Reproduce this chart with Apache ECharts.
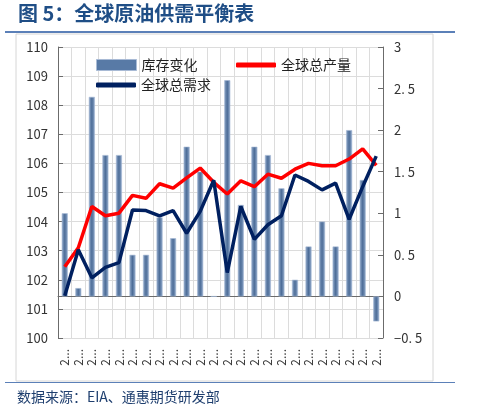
<!DOCTYPE html>
<html>
<head>
<meta charset="utf-8">
<script src="https://cdn.jsdelivr.net/npm/echarts@6/dist/echarts.min.js"></script>
<style>html,body{margin:0;padding:0;background:#fff}#c{width:490px;height:413px}</style>
</head>
<body>
<div id="c"></div>
<script>
const categories = ['2023-01','2023-02','2023-03','2023-04','2023-05','2023-06','2023-07','2023-08','2023-09','2023-10','2023-11','2023-12','2024-01','2024-02','2024-03','2024-04','2024-05','2024-06','2024-07','2024-08','2024-09','2024-10','2024-11','2024-12'];
const inventoryChange = [1.0,0.1,2.4,1.7,1.7,0.5,0.5,0.95,0.7,1.8,1.5,0,2.6,1.1,1.8,1.7,1.3,0.2,0.6,0.9,0.6,2.0,1.4,-0.3];
const totalSupply = [102.45,103.1,104.52,104.2,104.29,104.9,104.8,105.3,105.15,105.5,105.84,105.35,104.95,105.4,105.2,105.63,105.49,105.8,106.0,105.92,105.92,106.15,106.5,105.93];
const totalDemand = [101.45,103.03,102.07,102.43,102.59,104.4,104.38,104.2,104.38,103.6,104.35,105.42,102.25,104.52,103.39,103.89,104.2,105.6,105.38,105.09,105.32,104.08,105.2,106.25];
const titleText = '图 5：全球原油供需平衡表';
const sourceText = '数据来源：EIA、通惠期货研发部';

const chart = echarts.init(document.getElementById('c'));
const barColor = new echarts.graphic.LinearGradient(0,0,1,0,[
  {offset:0,color:'#8ea7c8'},{offset:0.5,color:'#4d6d98'},{offset:1,color:'#8ea7c8'}
]);
const axisLineColor = '#6b6b6b';
const font = '"Noto Sans CJK SC", "Liberation Sans", sans-serif';
const legendText = {fontSize:14,color:'#222',fontFamily:font};
chart.setOption({
  animation:false,
  textStyle:{fontFamily:font},
  graphic:[
    {type:'text',left:18,top:3,style:{text:titleText,fill:'#1f4e86',font:'bold 20px "Noto Sans CJK SC", sans-serif'}},
    {type:'line',shape:{x1:5,y1:32,x2:455,y2:32},style:{stroke:'#5b80b8',lineWidth:2}},
    {type:'rect',shape:{x:16,y:34,width:417,height:347},style:{fill:'none',stroke:'#d6d6d6',lineWidth:1}},
    {type:'line',shape:{x1:5,y1:382.5,x2:455,y2:382.5},style:{stroke:'#5b80b8',lineWidth:1}},
    {type:'text',left:17,top:390,style:{text:sourceText,fill:'#1f3f6f',font:'14px "Noto Sans CJK SC", sans-serif'}}
  ],
  legend:[
    {data:[{name:'库存变化',itemStyle:{color:'#587aa6',borderColor:'#a9bcd6',borderWidth:1}}],left:91,top:53,itemWidth:40,itemHeight:11,icon:'rect',textStyle:legendText},
    {data:['全球总需求'],left:91,top:73,itemWidth:40,itemHeight:5,icon:'roundRect',textStyle:legendText},
    {data:['全球总产量'],left:231,top:53,itemWidth:40,itemHeight:5,icon:'roundRect',textStyle:legendText}
  ],
  grid:{left:58,right:107,top:47,bottom:75,containLabel:false},
  xAxis:{
    type:'category',data:categories,boundaryGap:true,
    axisLine:{lineStyle:{color:axisLineColor}},
    axisTick:{inside:true,length:5,interval:2,lineStyle:{color:axisLineColor}},
    axisLabel:{interval:0,rotate:90,margin:11,width:24,overflow:'truncate',ellipsis:'...',fontSize:12,color:'#333'},
    splitLine:{show:true,interval:0,lineStyle:{color:'#dcdcdc'}}
  },
  yAxis:[
    {type:'value',min:100,max:110,interval:1,
      axisLine:{show:true,lineStyle:{color:axisLineColor}},
      axisTick:{show:true,inside:true,length:5,lineStyle:{color:axisLineColor}},
      axisLabel:{margin:10,fontSize:13,color:'#333'},
      splitLine:{show:true,lineStyle:{color:'#dcdcdc'}}},
    {type:'value',min:-0.5,max:3,interval:0.5,position:'right',
      axisLine:{show:true,lineStyle:{color:axisLineColor}},
      axisTick:{show:true,inside:true,length:5,lineStyle:{color:axisLineColor}},
      axisLabel:{margin:11,fontSize:13,color:'#333',formatter:v=>String(v).replace('.', '. ').replace('-', '−')},
      splitLine:{show:false}}
  ],
  series:[
    {name:'库存变化',type:'bar',yAxisIndex:1,data:inventoryChange,barWidth:6,
      itemStyle:{color:barColor,borderColor:'#9fb4d2',borderWidth:0.6},z:1},
    {name:'全球总产量',type:'line',yAxisIndex:0,data:totalSupply,showSymbol:false,symbol:'none',
      lineStyle:{color:'#ff0000',width:3.5},itemStyle:{color:'#ff0000'},z:3},
    {name:'全球总需求',type:'line',yAxisIndex:0,data:totalDemand,showSymbol:false,symbol:'none',
      lineStyle:{color:'#002060',width:3.5},itemStyle:{color:'#002060'},z:4}
  ]
});
</script>
</body>
</html>
